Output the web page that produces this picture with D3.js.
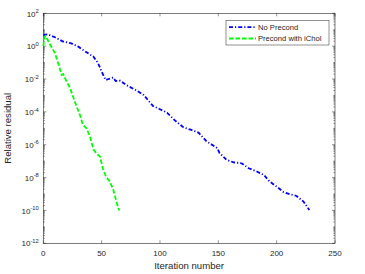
<!DOCTYPE html>
<html>
<head>
<meta charset="utf-8">
<script src="https://cdn.jsdelivr.net/npm/d3@7"></script>
<style>
  body { margin: 0; background: #fff; }
  text { font-family: "Liberation Sans", Arial, sans-serif; fill: #262626; }
</style>
</head>
<body>
<div id="chart"></div>
<script>
// iteration number and log10(relative residual)
var noPrecIter = [0, 4, 10, 17, 24, 30, 36, 43, 47, 50, 53.5, 56, 60, 62, 66, 71, 80, 86, 94, 100, 106, 113, 120, 127, 133, 140, 149, 151, 157, 163, 170, 176, 183, 189, 194, 200, 206, 211, 217, 223, 228];
var noPrecLog = [0.68, 0.72, 0.54, 0.28, 0.17, -0.03, -0.33, -0.64, -1.04, -1.55, -2.06, -2.0, -1.91, -2.12, -2.1, -2.36, -2.7, -2.97, -3.64, -3.84, -4.05, -4.53, -4.94, -5.1, -5.26, -5.8, -6.2, -6.5, -6.92, -7.07, -7.13, -7.43, -7.63, -7.84, -8.24, -8.55, -8.89, -9.0, -9.12, -9.46, -9.97];

var icholIter = [0, 1, 2, 6, 10, 13.7, 15.7, 17, 20, 23, 27, 31.4, 34, 37, 40, 43, 46, 48.6, 51, 53.7, 57, 60, 63, 65];
var icholLog = [0.0, 0.55, 0.62, 0.07, -0.43, -1.25, -1.75, -1.7, -2.16, -2.56, -3.38, -4.19, -4.8, -5.0, -5.5, -6.3, -6.56, -6.72, -7.43, -7.94, -8.24, -8.75, -9.56, -10.0];

var xTicks = [0, 50, 100, 150, 200, 250];
var yTickExps = [2, 0, -2, -4, -6, -8, -10, -12];
var seriesNames = ["No Precond", "Precond with iChol"];

var W = 365, H = 274;
var margin = {top: 13.3, right: 30, bottom: 30.7, left: 43.3};
var width = W - margin.left - margin.right,
    height = H - margin.top - margin.bottom;

var svg = d3.select("#chart").append("svg")
    .attr("width", W)
    .attr("height", H);
var g = svg.append("g")
    .attr("transform", "translate(" + margin.left + "," + margin.top + ")");

var x = d3.scaleLinear().domain([0, 250]).range([0, width]);
var y = d3.scaleLog().domain([1e-12, 1e2]).range([height, 0]);

// minor ticks on log axis
var minor = [];
for (var e = -12; e < 2; e++) {
  for (var k = 2; k <= 9; k++) minor.push(k * Math.pow(10, e));
}
for (var e2 = -11; e2 < 2; e2 += 2) minor.push(Math.pow(10, e2));

var axisColor = "#262626";
var ticksG = g.append("g").attr("stroke", axisColor).attr("stroke-width", 0.5);
minor.forEach(function(v) {
  ticksG.append("line").attr("x1", 0).attr("x2", 1.6).attr("y1", y(v)).attr("y2", y(v));
  ticksG.append("line").attr("x1", width).attr("x2", width - 1.6).attr("y1", y(v)).attr("y2", y(v));
});
yTickExps.forEach(function(ex) {
  var v = Math.pow(10, ex);
  ticksG.append("line").attr("x1", 0).attr("x2", 3).attr("y1", y(v)).attr("y2", y(v));
  ticksG.append("line").attr("x1", width).attr("x2", width - 3).attr("y1", y(v)).attr("y2", y(v));
});
xTicks.forEach(function(v) {
  ticksG.append("line").attr("x1", x(v)).attr("x2", x(v)).attr("y1", height).attr("y2", height - 3);
  ticksG.append("line").attr("x1", x(v)).attr("x2", x(v)).attr("y1", 0).attr("y2", 3);
});

// box
g.append("rect")
  .attr("x", 0).attr("y", 0).attr("width", width).attr("height", height)
  .attr("fill", "none").attr("stroke", axisColor).attr("stroke-width", 0.6);

// x tick labels
g.selectAll(".xl").data(xTicks).enter().append("text")
  .attr("x", function(d) { return x(d); })
  .attr("y", height + 13)
  .attr("text-anchor", "middle")
  .style("font-size", "8px")
  .text(function(d) { return d; });

// y tick labels 10^n
yTickExps.forEach(function(ex) {
  var t = g.append("text")
    .attr("x", -4.5)
    .attr("y", y(Math.pow(10, ex)) + 3.2)
    .attr("text-anchor", "end")
    .style("font-size", "8px");
  t.append("tspan").text("10");
  t.append("tspan").attr("dy", -3.5).style("font-size", "5.8px").text(ex);
});

// axis labels
g.append("text")
  .attr("x", width / 2)
  .attr("y", height + 25.5)
  .attr("text-anchor", "middle")
  .style("font-size", "9.6px")
  .text("Iteration number");
g.append("text")
  .attr("transform", "translate(" + (-32) + "," + (height / 2) + ") rotate(-90)")
  .attr("text-anchor", "middle")
  .style("font-size", "9.6px")
  .text("Relative residual");

var line = d3.line()
  .x(function(d) { return x(d[0]); })
  .y(function(d) { return y(Math.pow(10, d[1])); });

var blueData = noPrecIter.map(function(v, i) { return [v, noPrecLog[i]]; });
var greenData = icholIter.map(function(v, i) { return [v, icholLog[i]]; });

g.append("path").datum(blueData)
  .attr("d", line)
  .attr("fill", "none")
  .attr("stroke", "#0000ff")
  .attr("stroke-width", 1.8)
  .attr("stroke-dasharray", "4,2,1.2,2");
g.append("path").datum(greenData)
  .attr("d", line)
  .attr("fill", "none")
  .attr("stroke", "#00ff00")
  .attr("stroke-width", 1.8)
  .attr("stroke-dasharray", "4.5,2");

// legend
var lg = g.append("g").attr("transform", "translate(" + (226 - margin.left) + "," + (20.7 - margin.top) + ")");
lg.append("rect").attr("width", 103).attr("height", 24.3)
  .attr("fill", "#fff").attr("stroke", axisColor).attr("stroke-width", 0.5);
var legColors = ["#0000ff", "#00ff00"];
var legDash = ["4,2,1.2,2", "4.5,2"];
seriesNames.forEach(function(name, i) {
  var yy = 6.5 + i * 11.3;
  lg.append("line").attr("x1", 3).attr("x2", 30).attr("y1", yy).attr("y2", yy)
    .attr("stroke", legColors[i]).attr("stroke-width", 1.8)
    .attr("stroke-dasharray", legDash[i]);
  lg.append("text").attr("x", 32).attr("y", yy + 2.8)
    .style("font-size", "7.6px").text(name);
});
</script>
</body>
</html>
